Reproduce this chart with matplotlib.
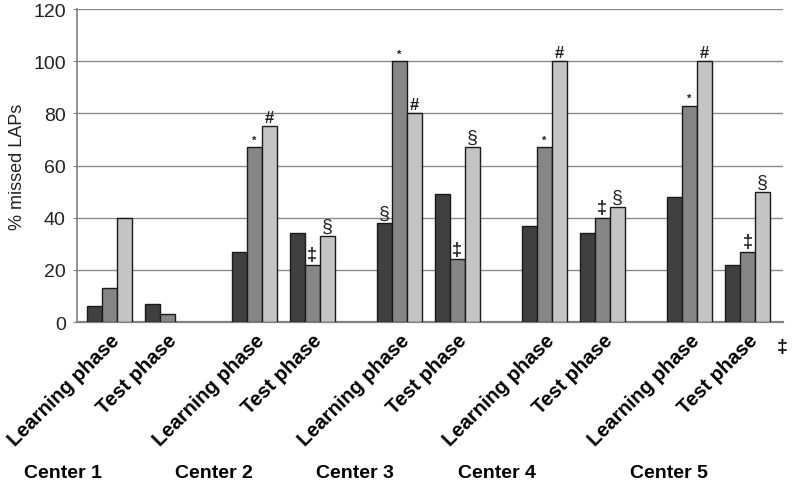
import numpy as np
import matplotlib
matplotlib.use("Agg")
import matplotlib.pyplot as plt
import matplotlib.transforms as mtransforms

plt.rcParams['font.family'] = ['Liberation Sans', 'DejaVu Sans']

# data
centers = ["Center 1", "Center 2", "Center 3", "Center 4", "Center 5"]
phases = ["Learning phase", "Test phase"]
# three series per group (dark, mid, light), order: C1L, C1T, C2L, C2T, ...
series_dark = [6, 7, 27, 34, 38, 49, 37, 34, 48, 22]
series_mid = [13, 3, 67, 22, 100, 24, 67, 40, 83, 27]
series_light = [40, 0, 75, 33, 80, 67, 100, 44, 100, 50]
# significance marks: (group index, series index, symbol)
marks = [
    (2, 1, "*"), (2, 2, "#"), (3, 1, "\u2021"), (3, 2, "\u00a7"),
    (4, 0, "\u00a7"), (4, 1, "*"), (4, 2, "#"), (5, 1, "\u2021"), (5, 2, "\u00a7"),
    (6, 1, "*"), (6, 2, "#"), (7, 1, "\u2021"), (7, 2, "\u00a7"),
    (8, 1, "*"), (8, 2, "#"), (9, 1, "\u2021"), (9, 2, "\u00a7"),
]

colors = ["#404040", "#868686", "#c4c4c4"]

fig = plt.figure(figsize=(7.96, 4.85), dpi=100)
ax = fig.add_axes([0.0967, 0.334, 0.887, 0.645])

n = len(series_dark)
x = np.array([(g // 2) * 5 + (g % 2) * 2 for g in range(n)], dtype=float)
w = 0.517
values = [series_dark, series_mid, series_light]
for i, vals in enumerate(values):
    vals = np.array(vals, dtype=float)
    keep = vals > 0
    ax.bar(x[keep] + (i - 1) * w, vals[keep], width=w, color=colors[i],
           edgecolor="#1a1a1a", linewidth=1.0, zorder=3)

# marks above bars
sym_style = {
    "*": dict(fontsize=8, fontweight="bold", dy=1.0),
    "#": dict(fontsize=12, fontweight="bold", dy=0.5),
    "\u2021": dict(fontsize=13, fontweight="bold", dy=0.5),
    "\u00a7": dict(fontsize=14, fontweight="normal", dy=0.5),
}
for g, s, sym in marks:
    st = sym_style[sym]
    ax.text(x[g] + (s - 1) * w, values[s][g] + st["dy"], sym, ha="center",
            va="bottom", fontsize=st["fontsize"], fontweight=st["fontweight"],
            color="#222222", zorder=4)

ax.set_xlim(-1.11, 23.23)
ax.set_ylim(0, 120)
ax.set_yticks(np.arange(0, 121, 20))
ax.yaxis.grid(True, color="#8a8a8a", linewidth=1.0, zorder=0)
ax.set_axisbelow(True)
for sp in ["top", "right"]:
    ax.spines[sp].set_visible(False)
ax.spines["left"].set_color("#808080")
ax.spines["bottom"].set_color("#808080")
ax.spines["left"].set_linewidth(1.2)
ax.spines["bottom"].set_linewidth(1.6)
ax.tick_params(axis="y", length=3, color="#808080", labelsize=14, labelcolor="#222222", pad=5)
ax.set_ylabel("% missed LAPs", fontsize=13, color="#222222", labelpad=5)

ax.set_xticks(x)
ax.set_xticklabels([phases[g % 2] for g in range(n)], rotation=45, ha="right",
                   va="center", rotation_mode="anchor", fontsize=14.5,
                   fontweight="bold")
ax.tick_params(axis="x", length=0, pad=11)
shift = mtransforms.ScaledTranslation(5 / 72, 0, fig.dpi_scale_trans)
for lab in ax.get_xticklabels():
    lab.set_transform(lab.get_transform() + shift)

# center labels below tick labels
trans = mtransforms.blended_transform_factory(ax.transData, fig.transFigure)
center_x = [-1.58, 3.61, 8.48, 13.37, 19.3]
for cx, name in zip(center_x, centers):
    fig.text(cx, 1 - 474 / 485, name, transform=trans, ha="center", va="center",
             fontsize=14, fontweight="bold")

fig.text(782 / 796, 1 - 347 / 485, "\u2021", ha="center", va="center",
         fontsize=14, fontweight="bold")

fig.savefig("out.png", dpi=100)
